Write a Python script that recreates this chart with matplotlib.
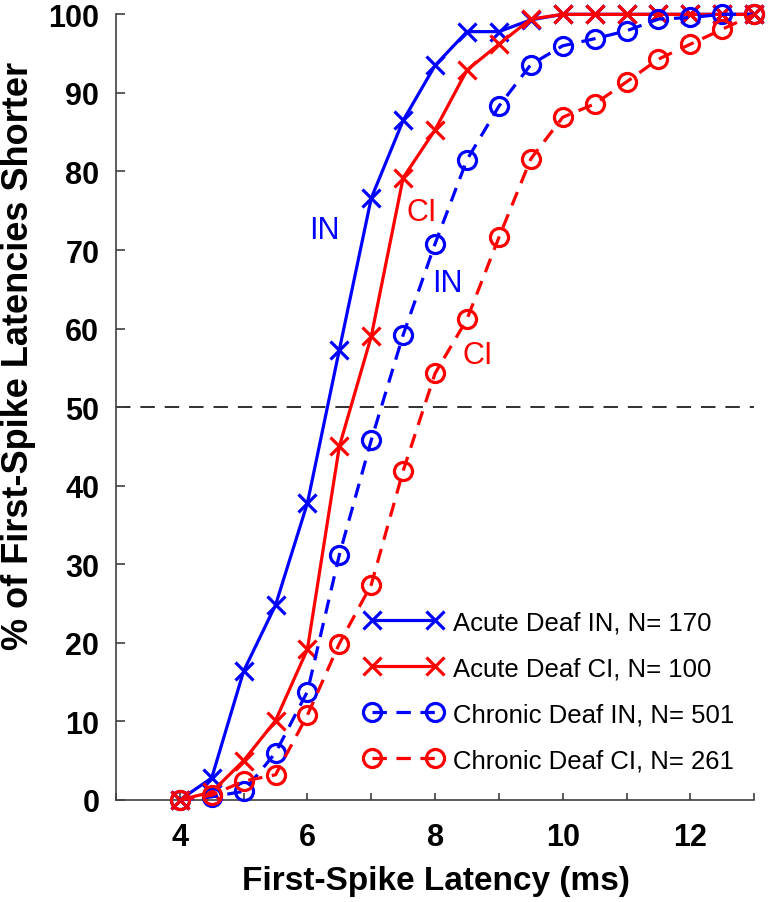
import matplotlib
matplotlib.use("Agg")
import matplotlib.pyplot as plt

plt.rcParams['font.family'] = ['Liberation Sans', 'DejaVu Sans']

latency = [4, 4.5, 5, 5.5, 6, 6.5, 7, 7.5, 8, 8.5, 9, 9.5, 10, 10.5, 11, 11.5, 12, 12.5, 13]
acute_in = [0, 2.8, 16.4, 24.8, 37.8, 57.3, 76.6, 86.5, 93.5, 97.8, 97.8, 99.3, 100, 100, 100, 100, 100, 100, 100]
acute_ci = [0, 1.0, 5.0, 10.1, 19.2, 45.0, 59.0, 79.2, 85.3, 92.9, 96.2, 99.4, 100, 100, 100, 100, 100, 100, 100]
chronic_in = [0, 0.4, 1.1, 6.0, 13.8, 31.2, 45.8, 59.2, 70.8, 81.5, 88.3, 93.6, 96.0, 96.9, 97.9, 99.4, 99.6, 100, 100]
chronic_ci = [0, 0.6, 2.4, 3.2, 10.8, 19.9, 27.4, 41.9, 54.3, 61.2, 71.6, 81.6, 86.9, 88.6, 91.4, 94.3, 96.2, 98.1, 100]

series_labels = ['Acute Deaf IN, N= 170', 'Acute Deaf CI, N= 100',
                 'Chronic Deaf IN, N= 501', 'Chronic Deaf CI, N= 261']

BLUE = '#0000FF'
RED = '#FF0000'

fig = plt.figure(figsize=(7.68, 9.03), dpi=100)
ax = fig.add_axes([0.151, 0.113, 0.831, 0.870])

lw = 2.3
ms = 13
mew = 2.3
dash = (4.5, 3.0)

ax.plot(latency, acute_in, color=BLUE, lw=lw, marker='x', ms=ms, mew=mew,
        label=series_labels[0], clip_on=False, zorder=3)
ax.plot(latency, acute_ci, color=RED, lw=lw, marker='x', ms=ms, mew=mew,
        label=series_labels[1], clip_on=False, zorder=3)
ax.plot(latency, chronic_in, color=BLUE, lw=lw, ls=(0, dash), marker='o', ms=ms, mew=mew,
        mfc='none', label=series_labels[2], clip_on=False, zorder=3)
ax.plot(latency, chronic_ci, color=RED, lw=lw, ls=(0, dash), marker='o', ms=ms, mew=mew,
        mfc='none', label=series_labels[3], clip_on=False, zorder=3)

ax.axhline(50, color='#202020', lw=1.3, ls=(0, (8, 5.5)), zorder=1)

ax.text(6.26, 72.6, 'IN', color=BLUE, fontsize=22, ha='center', va='center')
ax.text(7.79, 74.8, 'CI', color=RED, fontsize=22, ha='center', va='center')
ax.text(8.19, 65.8, 'IN', color=BLUE, fontsize=22, ha='center', va='center')
ax.text(8.66, 56.6, 'CI', color=RED, fontsize=22, ha='center', va='center')

ax.set_xlim(3, 13)
ax.set_ylim(0, 100)
ax.set_xticks([4, 6, 8, 10, 12])
ax.set_xticks([3, 5, 7, 9, 11, 13], minor=True)
ax.set_yticks(range(0, 101, 10))

for s in ['top', 'right']:
    ax.spines[s].set_visible(False)
for s in ['left', 'bottom']:
    ax.spines[s].set_color('#404040')
    ax.spines[s].set_linewidth(1.2)

ax.tick_params(axis='y', direction='in', length=6.5, width=1.2, color='#404040',
               labelsize=22, pad=12)
ax.tick_params(axis='x', which='both', direction='in', length=4.8, width=1.2, color='#404040',
               labelsize=22, pad=16)
for t in ax.get_xticklabels() + ax.get_yticklabels():
    t.set_fontweight('bold')

ax.set_xlabel('First-Spike Latency (ms)', fontsize=24, fontweight='bold')
ax.set_ylabel('% of First-Spike Latencies Shorter', fontsize=26, fontweight='bold')
ax.xaxis.set_label_coords(0.5016, -0.083)
ax.yaxis.set_label_coords(-0.126, 0.566)

fs_leg = 18.5
ax.legend(loc='upper left', bbox_to_anchor=(0.3895, 0.2417), frameon=False, fontsize=fs_leg,
          numpoints=2, handlelength=3.05, handletextpad=0.4, labelspacing=0.86,
          borderpad=0, borderaxespad=0)

fig.savefig('out.png', dpi=100)
